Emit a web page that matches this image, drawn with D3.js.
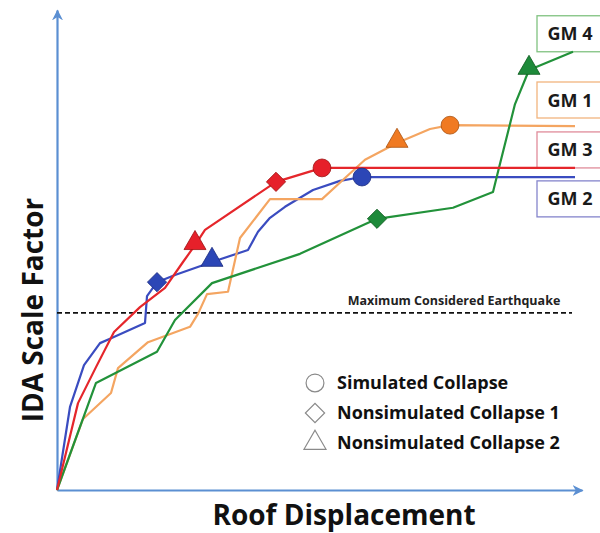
<!DOCTYPE html>
<html>
<head>
<meta charset="utf-8">
<script src="https://cdn.jsdelivr.net/npm/d3@7"></script>
<style>
  body { margin: 0; background: #fff; }
  svg { font-family: "Open Sans", Lato, sans-serif; }
</style>
</head>
<body>
<svg id="ida_chart" width="600" height="533"></svg>
<script>
// series (displacement units, scale factor units)
var gm2_x = [0, 2.6, 5.4, 8.6, 10.6, 17.6, 18, 20, 23.6, 31, 38.2, 40.2, 42.6, 45.6, 51.2, 56.6, 61, 103.6];
var gm2_y = [0, 17.3, 26.0, 30.6, 31.5, 34.8, 40.4, 43.3, 44.8, 47.5, 50.0, 53.8, 56.7, 59.0, 62.5, 64.4, 65.2, 65.2];

var gm1_x = [0, 5.2, 10.8, 12.2, 18.2, 26.6, 28.2, 30, 34.2, 36.6, 42.6, 53, 57.6, 61.6, 68, 74.6, 78.6, 103.6];
var gm1_y = [0, 14.8, 20.2, 25.4, 30.8, 34.0, 36.7, 40.8, 41.3, 52.5, 60.6, 60.6, 65.0, 68.8, 72.3, 75.2, 76.0, 75.8];

var gm4_x = [0, 7.8, 20, 23.6, 31, 48.6, 64, 79.2, 87.2, 88.2, 91.6, 94.4, 103.2];
var gm4_y = [0, 22.3, 28.8, 35.4, 43.1, 49.2, 56.5, 58.8, 62.1, 66.3, 80.4, 87.5, 91.3];

var gm3_x = [0, 4.2, 7.8, 11.4, 16.6, 21.6, 25.2, 27.6, 29.6, 43.8, 53, 103.6];
var gm3_y = [0, 18.1, 25.6, 32.9, 38.1, 42.1, 47.5, 51.0, 54.2, 64.2, 67.1, 67.1];

// collapse markers: series name, point index, kind
var marker_series = ["GM 2", "GM 2", "GM 2", "GM 1", "GM 1", "GM 4", "GM 4", "GM 3", "GM 3", "GM 3"];
var marker_index  = [7, 9, 16, 14, 16, 6, 11, 7, 9, 10];
var marker_kind   = ["diamond", "triangle", "circle", "triangle", "circle", "diamond", "triangle", "triangle", "diamond", "circle"];

var labels = ["GM 4", "GM 1", "GM 3", "GM 2"];
var label_y = [91.3, 77.5, 67.1, 56.9];   // where each tag box sits (bottom edge)

var mce = 36.9;

var legend_names = ["Simulated Collapse", "Nonsimulated Collapse 1", "Nonsimulated Collapse 2"];
var legend_kind = ["circle", "diamond", "triangle"];

var series = [
	{name: "GM 2", xs: gm2_x, ys: gm2_y, line: "#3a4cc0", fill: "#2c46b6", edge: "#1c2c80", tag: "#8585cc"},
	{name: "GM 1", xs: gm1_x, ys: gm1_y, line: "#f4a561", fill: "#f07a22", edge: "#a85210", tag: "#f2b47e"},
	{name: "GM 4", xs: gm4_x, ys: gm4_y, line: "#22923a", fill: "#1e8a3a", edge: "#0d5a1e", tag: "#80c280"},
	{name: "GM 3", xs: gm3_x, ys: gm3_y, line: "#e5262b", fill: "#e6202a", edge: "#9c1212", tag: "#e08c9a"}
];

var svg = d3.select("#ida_chart"),
	margin = {top: 10, left: 57, bottom: 43, right: 18},
	width = +svg.attr("width"),
	height = +svg.attr("height");

var x = d3.scaleLinear()
	.domain([0, 105])
	.range([margin.left, width - margin.right]);

var y = d3.scaleLinear()
	.domain([0, 100])
	.range([height - margin.bottom, margin.top]);

var defs = svg.append("defs");
defs.append("marker")
	.attr("id", "arrow")
	.attr("viewBox", "0 0 10 10")
	.attr("refX", 9).attr("refY", 5)
	.attr("markerWidth", 5).attr("markerHeight", 5)
	.attr("markerUnits", "strokeWidth")
	.attr("orient", "auto")
	.append("path")
	.attr("d", "M0,0L10,5L0,10L3,5Z")
	.attr("fill", "#5b8fd2");

// axes, no ticks, just arrowed lines
var xAxis = svg.append("g")
	.attr("class", "x-axis")
	.attr("transform", `translate(0,${y(0)})`)
	.call(d3.axisBottom(x).tickValues([]).tickSizeOuter(0));

var yAxis = svg.append("g")
	.attr("class", "y-axis")
	.attr("transform", `translate(${x(0)},0)`)
	.call(d3.axisLeft(y).tickValues([]).tickSizeOuter(0));

svg.selectAll(".x-axis .domain, .y-axis .domain")
	.attr("stroke", "#5b8fd2")
	.attr("stroke-width", 2.2)
	.attr("marker-end", "url(#arrow)");

// MCE dashed line
svg.append("line")
	.attr("x1", x(0)).attr("x2", x(103))
	.attr("y1", y(mce)).attr("y2", y(mce))
	.attr("stroke", "#111")
	.attr("stroke-width", 1.6)
	.attr("stroke-dasharray", "5,3");

svg.append("text")
	.attr("x", x(79.4))
	.attr("y", y(mce) - 8)
	.attr("text-anchor", "middle")
	.style("font-size", "12.5px")
	.style("font-weight", "bold")
	.attr("fill", "#222")
	.text("Maximum Considered Earthquake");

// tag boxes on the right
var box_h = y(0) - y(7.5);
svg.selectAll(".tag")
	.data(labels)
	.enter().append("rect")
	.attr("class", "tag")
	.attr("x", x(96))
	.attr("y", d => y(label_y[labels.indexOf(d)]) - box_h)
	.attr("width", 80)
	.attr("height", box_h)
	.attr("fill", "#fff")
	.attr("stroke", d => series.find(s => s.name == d).tag)
	.attr("stroke-width", 1.3);

var line = d3.line()
	.x(d => x(d[0]))
	.y(d => y(d[1]));

series.forEach(function(s) {
	var pts = s.xs.map((v, i) => [v, s.ys[i]]);
	svg.append("path")
		.datum(pts)
		.attr("fill", "none")
		.attr("stroke", s.line)
		.attr("stroke-width", 2.2)
		.attr("stroke-linejoin", "round")
		.attr("d", line);
});

svg.selectAll(".tag-text")
	.data(labels)
	.enter().append("text")
	.attr("class", "tag-text")
	.attr("x", x(96) + 33)
	.attr("y", d => y(label_y[labels.indexOf(d)]) - box_h / 2 + 6.5)
	.attr("text-anchor", "middle")
	.style("font-size", "18px")
	.style("font-weight", "bold")
	.attr("fill", "#1a1a1a")
	.text(d => d);

var symbolFor = {
	circle: d3.symbol().type(d3.symbolCircle).size(250),
	diamond: d3.symbol().type(d3.symbolSquare).size(185),
	triangle: d3.symbol().type(d3.symbolTriangle).size(210)
};

marker_series.forEach(function(name, i) {
	var s = series.find(t => t.name == name);
	var k = marker_index[i];
	var kind = marker_kind[i];
	svg.append("path")
		.attr("d", symbolFor[kind]())
		.attr("transform", `translate(${x(s.xs[k])},${y(s.ys[k]) - (kind == "triangle" ? 2 : 0)})` + (kind == "diamond" ? " rotate(45)" : ""))
		.attr("fill", s.fill)
		.attr("stroke", s.edge)
		.attr("stroke-width", 0.8);
});

// legend
var leg = svg.append("g").attr("transform", `translate(${x(51.6)},${y(22.3)})`);
legend_names.forEach(function(n, i) {
	var kind = legend_kind[i];
	leg.append("path")
		.attr("d", symbolFor[kind]())
		.attr("transform", `translate(0,${i * 30})` + (kind == "diamond" ? " rotate(45)" : ""))
		.attr("fill", "#fff")
		.attr("stroke", "#8a8a8a")
		.attr("stroke-width", 1.2);
	leg.append("text")
		.attr("x", 22)
		.attr("y", i * 30 + 6.5)
		.style("font-size", "18px")
		.style("font-weight", "bold")
		.attr("fill", "#111")
		.text(n);
});

// axis titles
svg.append("text")
	.attr("x", 344)
	.attr("y", height - 8)
	.attr("text-anchor", "middle")
	.style("font-size", "28px")
	.style("font-weight", "bold")
	.attr("fill", "#111")
	.text("Roof Displacement");

svg.append("text")
	.attr("transform", `translate(43,${y(37.5)}) rotate(-90)`)
	.attr("text-anchor", "middle")
	.style("font-size", "28px")
	.style("font-weight", "bold")
	.attr("fill", "#111")
	.text("IDA Scale Factor");
</script>
</body>
</html>
